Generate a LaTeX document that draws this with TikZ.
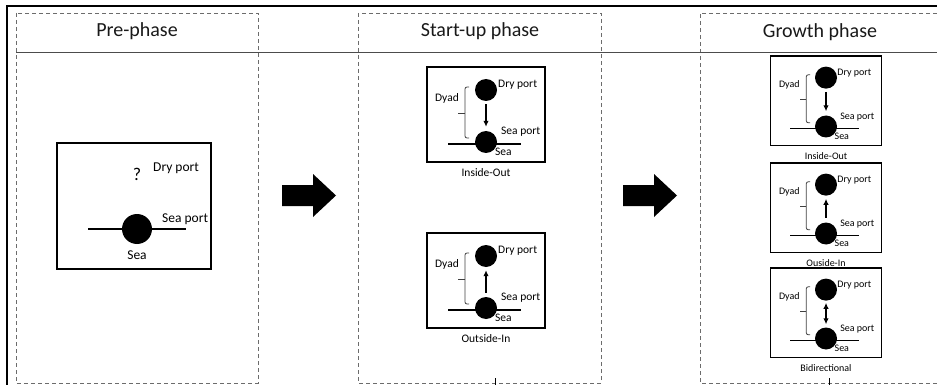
\documentclass[tikz,border=0pt]{standalone}
\usepackage{fontspec}
\setmainfont{Carlito}
\usetikzlibrary{positioning,arrows.meta}

\begin{document}
\begin{tikzpicture}[x=1pt,y=-1pt,
  phasebox/.style={draw=gray!85!black,dash pattern=on 4pt off 3pt,line width=0.9pt},
  panel/.style={draw,line width=1.5pt},
  port/.style={circle,fill=black,inner sep=0pt,minimum size=22pt},
  lbl/.style={inner sep=0pt,text=black},
  title/.style={inner sep=0pt,text=black!90,font=\fontsize{20}{24}\selectfont},
  iodir/.style={line width=1.5pt,-{Latex[length=6pt,width=5.5pt]},shorten <=3pt,shorten >=4pt},
  oidir/.style={line width=1.5pt,{Latex[length=6pt,width=5.5pt]}-,shorten <=3pt,shorten >=4pt},
  bidir/.style={line width=1.5pt,{Latex[length=6pt,width=5.5pt]}-{Latex[length=6pt,width=5.5pt]},shorten <=2pt,shorten >=3pt}]
\useasboundingbox (0,0) rectangle (937,385);
% frame and phase columns
\draw[line width=1.2pt] (7,385) -- (7,6) -- (937,6);
\draw[phasebox] (16,13) rectangle (258,383);
\draw[phasebox] (358,13) rectangle (601,383);
\draw[phasebox] (937,13) -- (700,13) -- (700,383) -- (937,383);
\draw[gray!60!black,line width=0.9pt] (16,52) -- (937,52);
\node[title] (pretitle) at (137,31) {Pre-phase};
\node[title] (starttitle) at (480,31) {Start-up phase};
\node[title] (growthtitle) at (820,32) {Growth phase};
% pre-phase
\draw[panel] (57,143) rectangle (211,269);
\draw[line width=1.4pt] (88,229) -- (186,229);
\node[port,minimum size=30pt] (seapre) at (137,229) {};
\node[lbl,font=\fontsize{18}{18}\selectfont] (drypre) at (137,174) {?};
\node[lbl,anchor=west,font=\fontsize{13.5}{14}\selectfont] at (153,168) {Dry port};
\node[lbl,anchor=west,font=\fontsize{13.5}{14}\selectfont] at (162,219) {Sea port};
\node[lbl,font=\fontsize{13.5}{14}\selectfont] at (137,255) {Sea};
% big arrows
\foreach \d in {0,341}
  \fill (282+\d,185) -- (313+\d,185) -- (313+\d,174) -- (336+\d,195.5) -- (313+\d,217)
    -- (313+\d,206) -- (282+\d,206) -- cycle;
% dyad panels
\foreach \n/\cx/\bt/\s/\fs/\tip/\cap in {a/486/67/1/11.5/iodir/Inside-Out,
    b/486/233/1/11.5/oidir/Outside-In, c/826/56/0.94/10/iodir/Inside-Out,
    d/826/163/0.94/10/oidir/Ouside-In, e/826/268/0.94/10/bidir/Bidirectional}{
  \begin{scope}[shift={(\cx,\bt)},scale=\s,font=\fontsize{\fs}{\fs}\selectfont]
    \draw[panel] (-59,0) rectangle (59,95);
    \draw[line width=1.4pt] (-38,77) -- (35,77);
    \node[port] (dry\n) at (0,23) {};
    \node[port] (sea\n) at (0,75) {};
    \draw[\tip] (dry\n) -- (sea\n);
    \draw[gray!50!black,line width=0.8pt,rounded corners=2pt] (-17,20) -- (-21,20) -- (-21,71) -- (-17,71);
    \draw[gray!50!black,line width=0.8pt] (-21,46) -- (-28,46);
    \node[lbl] at (-39,31) {Dyad};
    \node[lbl,anchor=west] at (12,18) {Dry port};
    \node[lbl,anchor=west] at (15,65) {Sea port};
    \node[lbl,anchor=west] at (9,85) {Sea};
    \node[lbl] (cap\n) at (0,106) {\cap};
  \end{scope}}
% links to the next row
\draw[line width=1pt] (495,378) -- (495,385);
\draw[line width=1pt] (829,378) -- (829,385);
\end{tikzpicture}
\end{document}
